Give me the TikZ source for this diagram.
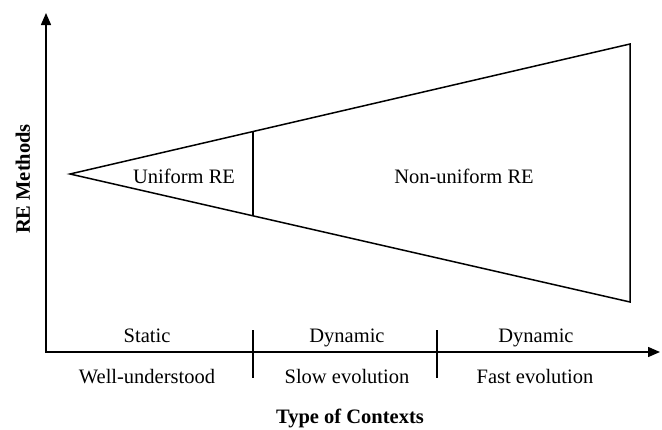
\documentclass[tikz,border=0pt]{standalone}
\usepackage{fontspec}
\setmainfont{Liberation Serif}
\usetikzlibrary{arrows.meta}
\begin{document}
\begin{tikzpicture}[x=1pt,y=-1pt,line width=1.5pt,
		axisline/.style={{Triangle[length=12pt,width=10pt]}-{Triangle[length=12pt,width=10pt]}},
		txt/.style={font=\fontsize{20.5}{24}\selectfont,inner sep=0pt,anchor=base},
		ttl/.style={font=\fontsize{20.5}{24}\selectfont\bfseries,inner sep=0pt,anchor=base}]
		\useasboundingbox (0,0) rectangle (662,429);
		% axes
		\coordinate (ytip) at (46,13);
		\coordinate (origin) at (46,352);
		\coordinate (xtip) at (660,352);
		\draw[axisline] (ytip) -- (origin) -- (xtip);
		\coordinate (tickAtop) at (253,330);
		\coordinate (tickAbot) at (253,378);
		\coordinate (tickBtop) at (437,330);
		\coordinate (tickBbot) at (437,378);
		\draw (tickAtop) -- (tickAbot) (tickBtop) -- (tickBbot);
		% cone of methods
		\coordinate (apex) at (70,174);
		\coordinate (upper) at (630,44);
		\coordinate (lower) at (630,302);
		\coordinate (splitTop) at (253,131.5);
		\coordinate (splitBot) at (253,215.8);
		\draw[line join=miter] (apex) -- (upper) -- (lower) -- cycle;
		\draw (splitTop) -- (splitBot);
		\node[txt] (uniform) at (184,183) {Uniform RE};
		\node[txt] (nonuniform) at (464,183) {Non-uniform RE};
		% context labels
		\node[txt] (static) at (147,342) {Static};
		\node[txt] (dynSlow) at (347,342) {Dynamic};
		\node[txt] (dynFast) at (536,342) {Dynamic};
		\node[txt] (wellKnown) at (147,383) {Well-understood};
		\node[txt] (slowEvo) at (347,383) {Slow evolution};
		\node[txt] (fastEvo) at (535,383) {Fast evolution};
		% axis titles
		\node[ttl] (xtitle) at (350,423) {Type of Contexts};
		\node[ttl,rotate=90] (ytitle) at (30,179) {RE Methods};
	\end{tikzpicture}
\end{document}
